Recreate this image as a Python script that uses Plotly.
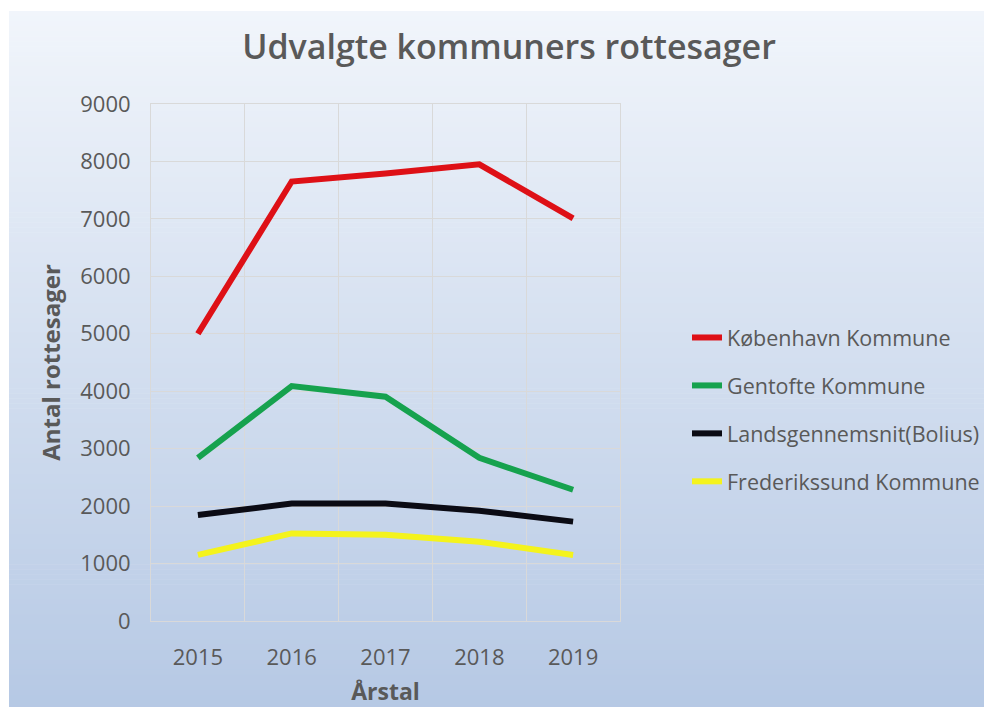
import plotly.graph_objects as go

years = ["2015", "2016", "2017", "2018", "2019"]
kobenhavn = [5000, 7650, 7790, 7950, 7010]
gentofte = [2840, 4090, 3905, 2840, 2285]
landsgennemsnit = [1845, 2045, 2045, 1920, 1730]
frederikssund = [1150, 1525, 1500, 1380, 1150]

series_names = ["København Kommune", "Gentofte Kommune",
                "Landsgennemsnit(Bolius)", "Frederikssund Kommune"]
series_values = [kobenhavn, gentofte, landsgennemsnit, frederikssund]
series_colors = ["#DE1016", "#16A24E", "#0B0B14", "#F4F31C"]

OFF = 8  # page body margin
W, H = 992 - 2 * OFF, 715 - 2 * OFF   # fit inside the window, no scrollbars
# plot area in screen pixels
SL, SR, ST, SB = 151, 620, 104, 621
L, R, T, B = SL - OFF, SR - OFF, ST - OFF, SB - OFF
FONT = "Open Sans"
GREY = "#595959"

fig = go.Figure()
for name, vals, col in zip(series_names, series_values, series_colors):
    fig.add_trace(go.Scatter(
        x=years, y=vals, name=name, mode="lines",
        line=dict(color=col, width=6),
        legendgroup=name,
    ))

# screen pixel -> paper coordinates
def px_x(px):
    return (px - OFF - L) / (R - L)

def px_y(py):
    return (B - (py - OFF)) / (B - T)

# screen pixel -> container coordinates
def cx(px):
    return (px - OFF) / W

def cy(py):
    return 1 - (py - OFF) / H

# gradient background (decorative)
top_c = (241, 245, 251)
bot_c = (181, 200, 228)
y0, y1 = 11, 715
n = 140
shapes = []
for i in range(n):
    a = y0 + (y1 - y0) * i / n
    b = y0 + (y1 - y0) * (i + 1) / n
    t = (i + 0.5) / n
    c = tuple(round(top_c[k] + (bot_c[k] - top_c[k]) * t) for k in range(3))
    shapes.append(dict(
        type="rect", xref="paper", yref="paper", layer="below",
        x0=px_x(9), x1=px_x(1000), y0=px_y(b + 0.6), y1=px_y(a),
        line=dict(width=0), fillcolor="rgb(%d,%d,%d)" % c,
    ))

fig.update_layout(
    width=W, height=H,
    margin=dict(l=L, r=W - R, t=T, b=H - B, autoexpand=False),
    paper_bgcolor="white",
    plot_bgcolor="rgba(0,0,0,0)",
    shapes=shapes,
    title=dict(text="Udvalgte kommuners rottesager", x=cx(509),
               xref="container", xanchor="center",
               y=cy(47), yref="container", yanchor="middle",
               font=dict(family=FONT, size=34, color=GREY, weight=600)),
    font=dict(family=FONT, color=GREY),
    showlegend=True,
    legend=dict(
        xref="container", yref="container",
        x=cx(687), xanchor="left", y=cy(317), yanchor="top",
        bgcolor="rgba(0,0,0,0)", traceorder="grouped", tracegroupgap=17,
        font=dict(family=FONT, size=21.5, color=GREY),
        itemwidth=30,
    ),
)

fig.update_xaxes(
    type="category", tickson="boundaries", range=[-0.5, 4.5],
    automargin=False,
    showgrid=True, gridcolor="#D9D9D9", gridwidth=1,
    showline=True, linecolor="#D9D9D9", mirror=True,
    ticks="", ticklabelstandoff=17,
    tickfont=dict(family=FONT, size=22, color=GREY),
    title=dict(text="<b>Årstal</b>", standoff=20,
               font=dict(family=FONT, size=23, color=GREY)),
)
fig.update_yaxes(
    range=[0, 9000], dtick=1000, tick0=0,
    automargin=False,
    showgrid=True, gridcolor="#D9D9D9", gridwidth=1,
    zeroline=False,
    showline=True, linecolor="#D9D9D9", mirror=True,
    ticks="", ticklabelstandoff=15,
    tickfont=dict(family=FONT, size=22, color=GREY),
    title=dict(text="<b>Antal rottesager</b>", standoff=12,
               font=dict(family=FONT, size=24, color=GREY)),
)

fig.write_html("out.html")
